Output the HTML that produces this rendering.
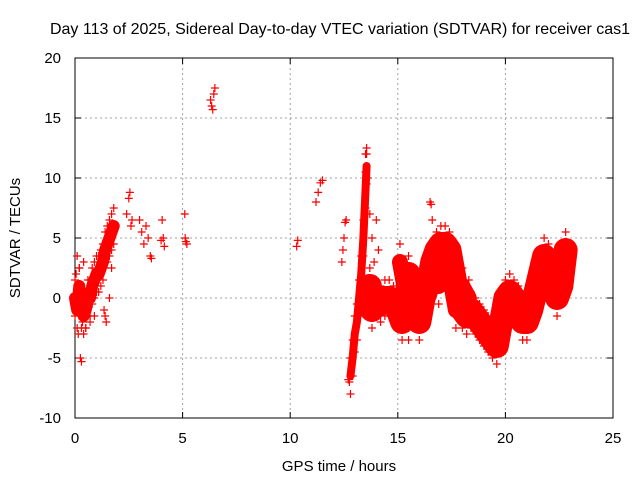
<!DOCTYPE html>
<html><head><meta charset="utf-8"><style>
body{margin:0;background:#fff;}
svg text{font-family:"Liberation Sans",sans-serif;font-size:15px;fill:#000;}
</style></head><body>
<svg id="chart" width="640" height="480">
<text x="340" y="34" text-anchor="middle" style="font-size:16px">Day 113 of 2025, Sidereal Day-to-day VTEC variation (SDTVAR) for receiver cas1</text>
<g id="grid"></g>
<g id="axes"></g>
<g id="marks"></g>
<text x="339" y="471" text-anchor="middle">GPS time / hours</text>
<text transform="translate(20,238) rotate(-90)" text-anchor="middle">SDTVAR / TECUs</text>
</svg>
<script>
const xTicks=[0,5,10,15,20,25];
const yTicks=[-10,-5,0,5,10,15,20];
// dense bands (null = break)
const bandHours=[0,0.1,0.2,0.3,0.4,0.5,0.6,0.7,0.8,0.9,1.0,1.1,1.2,1.3,1.4,1.5,1.6,1.7,1.8,null,
12.8,12.9,13.0,13.1,13.2,13.3,13.4,13.5,13.55,null,
13.7,13.8,14.0,14.2,14.4,14.6,14.8,15.0,15.2,15.4,15.5,15.6,15.8,16.0,16.2,16.4,16.6,16.8,17.0,17.2,17.4,17.6,17.8,18.0,18.2,18.4,18.6,18.8,19.0,19.2,19.4,19.6,19.8,20.0,20.2,20.4,20.6,20.8,21.0,21.2,21.4,21.6,21.8,22.0,22.2,22.4,22.6,22.8,null,
15.1,15.3,15.5,15.7,null,16.6,16.9,17.2,17.5,17.7,18.0,18.3];
const bandValues=[0,-1,1,-1,-1.5,-1,0,0,1,1.5,2,2,2.5,3,4,4.5,5,5.5,6,null,
-6.5,-5,-3,-2,0,2,5,9,11,null,
1,-1,0,-0.5,0,0,-0.5,-1,-2,-1,2,1,-1,-2,0,1,3,4,4.5,4.5,4,2,0,-1,-1.5,-1,-1.5,-2,-2.5,-3,-3.5,-4,-2,0,0.5,0,-0.5,-2,-2,-1,0.5,2,3.5,3,1,0,1,4,null,
3,1,-2,-1,null,2,1,3,1,-1,1,0];
// isolated points
const ptHours=[0.05,0.1,0.15,0.2,0.25,0.3,0.35,0.4,0.5,0.7,0.9,1.0,1.35,1.4,1.45,1.6,1.7,2.4,2.5,2.55,2.6,2.65,3.0,3.1,3.2,3.3,3.4,3.5,3.55,4.0,4.05,4.1,4.15,5.1,5.12,5.15,5.2,6.3,6.35,6.4,6.45,6.5,10.3,10.35,11.2,11.3,11.4,11.5,12.4,12.45,12.5,12.55,12.6,12.7,12.75,13.5,13.55,13.6,13.7,13.8,13.9,14.0,14.1,16.5,16.55,16.6,17.3];
const ptValues=[2,3.5,-3,2.5,-5,-5.3,-2,3,-2.5,-2,-1.5,2,-1,-1.5,-2,0,2.5,7,8.3,8.8,6,6.5,6.5,5.5,4.5,6,5,3.5,3.3,4.8,6.5,5,4.3,7,5,4.7,4.5,16.5,16,15.7,17,17.5,4.3,4.8,8,8.8,9.6,9.8,3,4,5,6.3,6.5,-6.8,-7,12,12,10,7,5,3,6.5,4,8,7.8,6.5,5];
const segWidths=[12,8,24,16,16];
const X=h=>75+h*21.52, Y=v=>298-v*12;
const NS='http://www.w3.org/2000/svg';
function mk(tag,attrs,parent){const e=document.createElementNS(NS,tag);for(const k in attrs)e.setAttribute(k,attrs[k]);parent.appendChild(e);return e;}
const grid=document.getElementById('grid'),axes=document.getElementById('axes'),marks=document.getElementById('marks');
xTicks.forEach(t=>{
 if(t>0&&t<25){const l=mk('line',{x1:X(t),x2:X(t),y1:58,y2:418,stroke:'#a0a0a0','stroke-dasharray':'2,3'},grid);
 
 }
 mk('line',{x1:X(t),x2:X(t),y1:418,y2:412,stroke:'#000'},axes);
 mk('line',{x1:X(t),x2:X(t),y1:58,y2:64,stroke:'#000'},axes);
 const tx=mk('text',{x:X(t),y:443,'text-anchor':'middle'},axes);tx.textContent=t;
 
 
});
yTicks.forEach(t=>{
 if(t>-10&&t<20){const l=mk('line',{x1:75,x2:613,y1:Y(t),y2:Y(t),stroke:'#a0a0a0','stroke-dasharray':'2,3'},grid);
 
 }
 mk('line',{x1:75,x2:81,y1:Y(t),y2:Y(t),stroke:'#000'},axes);
 mk('line',{x1:607,x2:613,y1:Y(t),y2:Y(t),stroke:'#000'},axes);
 const tx=mk('text',{x:61,y:Y(t)+5,'text-anchor':'end'},axes);tx.textContent=t;
 
 
});
mk('rect',{x:75,y:58,width:538,height:360,fill:'none',stroke:'#000'},axes);
let seg=[],si=0;
function flush(){if(seg.length>1){const p=mk('polyline',{points:seg.join(' '),fill:'none',stroke:'#f00','stroke-width':segWidths[si],'stroke-linejoin':'round','stroke-linecap':'round'},marks);
 
 }seg=[];si++;}
bandHours.forEach((h,i)=>{if(h===null){flush();return;}seg.push(X(h)+','+Y(bandValues[i]));});flush();
function plus(h,v){const x=X(h),y=Y(v);
 const p=mk('path',{d:`M${x-4},${y}H${x+4}M${x},${y-4}V${y+4}`,stroke:'#f00','stroke-width':1.2,fill:'none'},marks);
 
 }
bandHours.forEach((h,i)=>{if(h!==null){plus(h,bandValues[i]+1.5);plus(h,bandValues[i]-1.5);}});
ptHours.forEach((h,i)=>plus(h,ptValues[i]));
</script>
</body></html>
